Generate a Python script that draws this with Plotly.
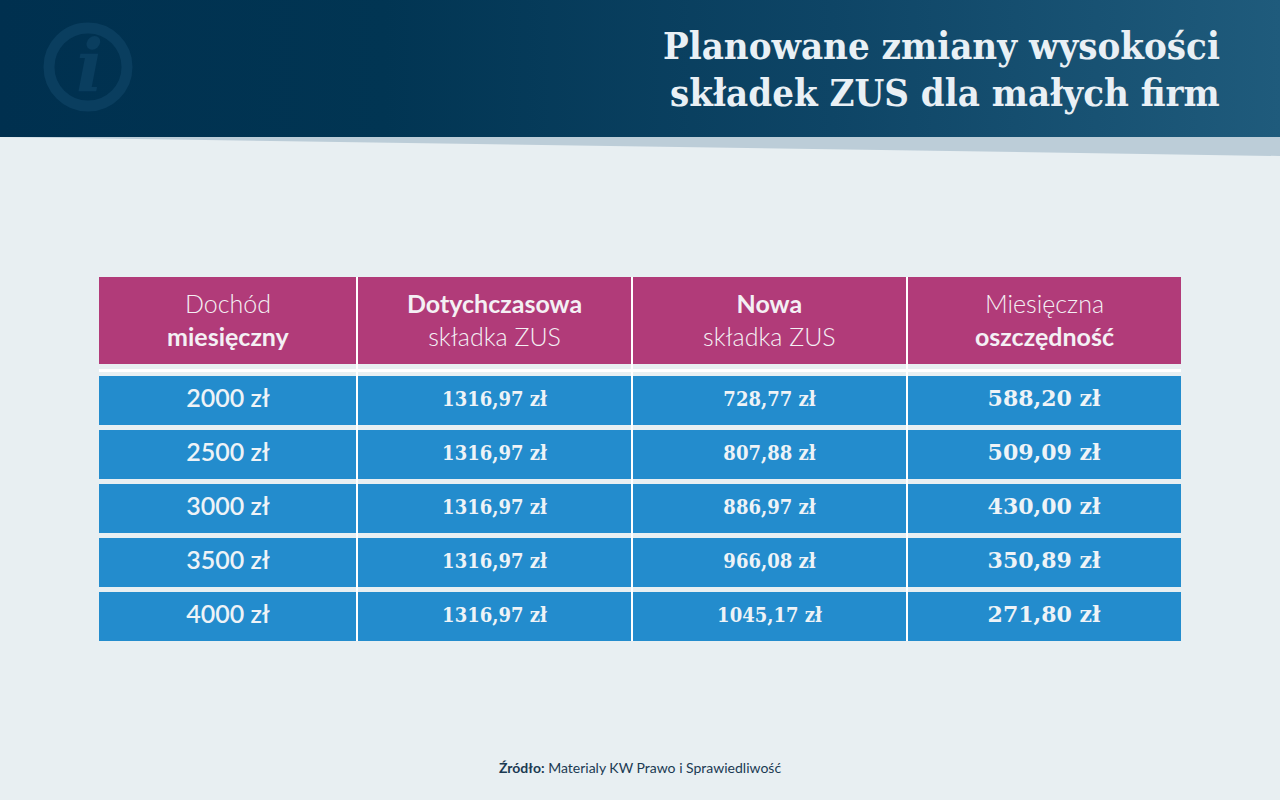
import plotly.graph_objects as go

# data
income = [2000, 2500, 3000, 3500, 4000]
old_fee = [1316.97, 1316.97, 1316.97, 1316.97, 1316.97]
new_fee = [728.77, 807.88, 886.97, 966.08, 1045.17]
savings = [588.20, 509.09, 430.00, 350.89, 271.80]

headers = [
    "Dochód<br><b>miesięczny</b>",
    "<b>Dotychczasowa</b><br>składka ZUS",
    "<b>Nowa</b><br>składka ZUS",
    "Miesięczna<br><b>oszczędność</b>",
]
title_lines = ["Planowane zmiany wysokości", "składek ZUS dla małych firm"]
source = "<b>Źródło:</b> Materialy KW Prawo i Sprawiedliwość"

# layout (pixel units on a 1280x800 canvas)
W, H = 1280, 800
BG = "#e8eff2"
MAGENTA = "#b13b79"
BLUE = "#238ccd"
TXT = "#eef3f7"
col_edges = [99, 357, 632, 907, 1181]
head_top, head_bot = 277, 364
row_top0, row_h, row_gap = 376, 49, 5


def zl(v, dec=2):
    s = f"{v:.{dec}f}".replace(".", ",")
    return s + " zł"


fig = go.Figure()

# header band with gradient
fig.add_trace(go.Scatter(
    x=[0, W, W, 0, 0], y=[0, 0, 137, 137, 0], mode="lines", fill="toself",
    line=dict(width=0), hoverinfo="skip",
    fillgradient=dict(type="horizontal",
                      colorscale=[[0, "#00304f"], [0.3, "#013553"], [0.65, "#0e4566"], [1, "#1f5b7c"]]),
))
# light wedge under the band
fig.add_trace(go.Scatter(
    x=[0, W, W, 0], y=[137, 137, 156, 137], mode="lines", fill="toself",
    line=dict(width=0), fillcolor="#bccdd8", hoverinfo="skip",
))

shapes = []
# info icon ring
shapes.append(dict(type="circle", x0=49, x1=127, y0=28, y1=106, line=dict(color="#0a3e5f", width=11),
                   layer="above"))
# header cells
for i in range(4):
    shapes.append(dict(type="rect", x0=col_edges[i], x1=col_edges[i + 1], y0=head_top, y1=head_bot,
                       fillcolor=MAGENTA, line=dict(width=0), layer="below"))
# thin white rule under the header
shapes.append(dict(type="rect", x0=col_edges[0], x1=col_edges[-1], y0=369, y1=372,
                   fillcolor="white", line=dict(width=0), layer="below"))
# body rows
row_centers = []
for r in range(len(income)):
    y0 = row_top0 + r * (row_h + row_gap)
    row_centers.append(y0 + row_h / 2)
    shapes.append(dict(type="rect", x0=col_edges[0], x1=col_edges[-1], y0=y0, y1=y0 + row_h,
                       fillcolor=BLUE, line=dict(width=0), layer="below"))
last_bot = row_top0 + (len(income) - 1) * (row_h + row_gap) + row_h
# white column separators
for xe in col_edges[1:-1]:
    shapes.append(dict(type="rect", x0=xe - 1, x1=xe + 1, y0=head_top, y1=last_bot,
                       fillcolor="white", line=dict(width=0), layer="below"))

col_centers = [(col_edges[i] + col_edges[i + 1]) / 2 for i in range(4)]
columns = [
    ([f"{v} zł" for v in income], dict(family="Lato", size=25, color=TXT, weight=600)),
    ([zl(v) for v in old_fee], dict(family="DejaVu Serif Condensed", size=20, color=TXT, weight=600)),
    ([zl(v) for v in new_fee], dict(family="DejaVu Serif Condensed", size=20, color=TXT, weight=600)),
    ([zl(v) for v in savings], dict(family="DejaVu Serif", size=22, color=TXT, weight=800)),
]
for c, (labels, font) in enumerate(columns):
    fig.add_trace(go.Scatter(
        x=[col_centers[c]] * len(labels), y=row_centers, mode="text", text=labels,
        textposition="middle center", textfont=font, hoverinfo="skip",
    ))

annotations = []
for c, h in enumerate(headers):
    annotations.append(dict(x=col_centers[c], y=(head_top + head_bot) / 2 - 1, text=h, showarrow=False,
                            xanchor="center", yanchor="middle", align="center",
                            font=dict(family="Lato", size=25, color="#f4f0f4", weight=300)))
for k, line in enumerate(title_lines):
    annotations.append(dict(x=1222, y=45 + k * 47, text=f"<b>{line}</b>", showarrow=False,
                            xanchor="right", yanchor="middle",
                            font=dict(family="DejaVu Serif Condensed", size=38, color="#e9f0f5")))
annotations.append(dict(x=89, y=66, text="<b><i>i</i></b>", showarrow=False, xanchor="center", yanchor="middle",
                        font=dict(family="DejaVu Serif", size=72, color="#0a3e5f")))
annotations.append(dict(x=640, y=767, text=source, showarrow=False, xanchor="center", yanchor="middle",
                        font=dict(family="Lato", size=14, color="#1b3a52")))

fig.update_layout(
    width=W, height=H, margin=dict(l=0, r=0, t=0, b=0),
    paper_bgcolor=BG, plot_bgcolor=BG, showlegend=False,
    shapes=shapes, annotations=annotations,
    xaxis=dict(range=[0, W], visible=False, fixedrange=True),
    yaxis=dict(range=[H, 0], visible=False, fixedrange=True),
)

fig.write_html("out.html", config={"displayModeBar": False},
               post_script="document.body.style.margin='0';document.body.style.overflow='hidden';")
